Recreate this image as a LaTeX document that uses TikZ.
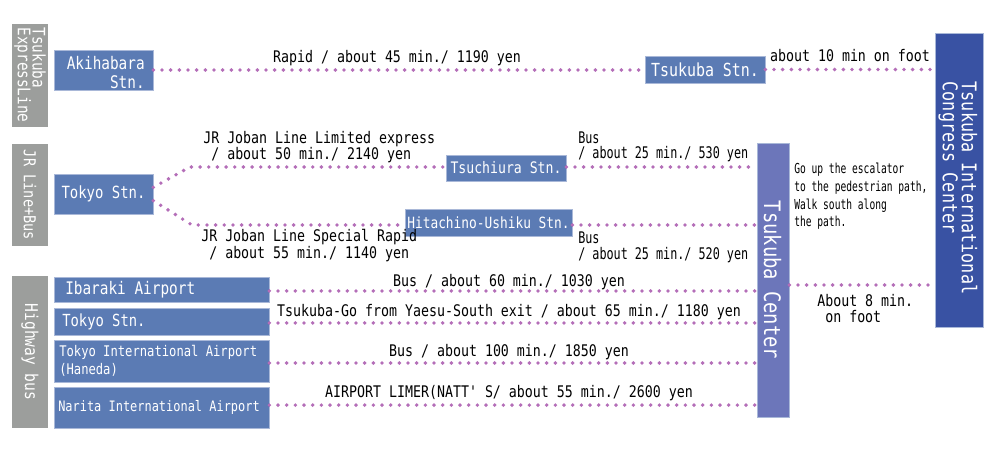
\documentclass[tikz,border=0pt]{standalone}
\usepackage{fontspec}
\usetikzlibrary{fit}
\newfontfamily\gfont{DejaVu Sans Mono}[FakeStretch=0.83]
\newfontfamily\gmid{DejaVu Sans Mono}[FakeStretch=0.735]
\newfontfamily\gnarrow{DejaVu Sans Mono}[FakeStretch=0.70]
\newcommand\myfs[2]{\fontsize{#1}{#2}\selectfont}
\definecolor{boxblue}{HTML}{5B7BB4}
\definecolor{boxedge}{HTML}{A9B8D8}
\definecolor{tcblue}{HTML}{6C76BA}
\definecolor{iccblue}{HTML}{3952A3}
\definecolor{labgray}{HTML}{9C9E9C}
\definecolor{dotpurple}{HTML}{B46EB8}
\tikzset{
  box/.style={fill=boxblue, draw=boxedge, line width=0.5pt, inner sep=0pt},
  gbox/.style={fill=labgray, inner sep=0pt},
  wtext/.style={text=white, inner sep=0pt},
  lbl/.style={inner sep=0pt, text=black, align=left, font=\gfont\myfs{12}{11.6}},
  dots/.style={draw=dotpurple, line width=2.9pt, line cap=round, dash pattern=on 0pt off 6.5pt},
}
\begin{document}
\begin{tikzpicture}[x=0.75pt,y=-0.75pt]
\useasboundingbox (0,0) rectangle (996,449);
% grey side labels
\node[gbox, fit={(12,24) (48,127)}] (g1) {};
\node[wtext, rotate=-90, align=left, font=\gfont\myfs{13}{11.2}] (g1t) at (30,75) {Tsukuba\\ExpressLine};
\node[gbox, fit={(12,144) (48,246)}] (g2) {};
\node[wtext, rotate=-90, font=\gfont\myfs{12.3}{12}] (g2t) at (30,195) {JR Line+Bus};
\node[gbox, fit={(12,276) (48,428)}] (g3) {};
\node[wtext, rotate=-90, font=\gfont\myfs{13.2}{12}] (g3t) at (30,352) {Highway bus};
% station boxes
\node[box, fit={(54,50) (153,90)}] (aki) {};
\node[wtext, anchor=east, align=right, font=\gfont\myfs{13}{14.25}] (akit) at (145,72.5) {Akihabara\\Stn.};
\node[box, fit={(645,56) (765,83)}] (tsst) {};
\node[wtext, font=\gfont\myfs{13.5}{14}] (tsstt) at (tsst.center) {Tsukuba Stn.};
\node[box, fit={(54,174) (153,214)}] (tok) {};
\node[wtext, font=\gfont\myfs{12.6}{14}] (tokt) at (tok.center) {Tokyo Stn.};
\node[box, fit={(446,155) (566,181)}] (tsu) {};
\node[wtext, font=\gfont\myfs{11.9}{14}] (tsut) at (tsu.center) {Tsuchiura Stn.};
\node[box, fit={(405,209) (572,236)}] (hit) {};
\node[wtext, font=\gfont\myfs{11.6}{14}] (hitt) at (hit.center) {Hitachino-Ushiku Stn.};
\node[box, fit={(54,277) (269,302)}] (ibk) {};
\node[wtext, anchor=west, font=\gfont\myfs{13}{14}] (ibkt) at (65,289.5) {Ibaraki Airport};
\node[box, fit={(54,308) (269,335)}] (tk2) {};
\node[wtext, anchor=west, font=\gfont\myfs{12.5}{14}] (tk2t) at (62,321.5) {Tokyo Stn.};
\node[box, fit={(54,340) (269,382)}] (hnd) {};
\node[wtext, anchor=west, align=left, font=\gfont\myfs{11}{13.5}] (hndt) at (59,361) {Tokyo International Airport\\(Haneda)};
\node[box, fit={(54,387) (269,428)}] (nrt) {};
\node[wtext, anchor=west, font=\gfont\myfs{10.8}{13}] (nrtt) at (58,407.5) {Narita International Airport};
% destination boxes
\node[fill=tcblue, draw=boxedge, line width=0.5pt, inner sep=0pt, fit={(757,143) (789,417)}] (tc) {};
\node[wtext, rotate=-90, font=\gfont\myfs{17}{17}] (tct) at (772.5,280) {Tsukuba Center};
\node[fill=iccblue, draw=boxedge, line width=0.5pt, inner sep=0pt, fit={(935,33) (983,327)}] (icc) {};
\node[wtext, rotate=-90, align=left, font=\gfont\myfs{15.2}{14.25}] (icct) at (958,188) {Tsukuba International\\Congress Center};
% connectors
\coordinate (b1) at (190,167);
\coordinate (b2) at (192,225);
\coordinate (w8) at (789,285);
\draw[dots] (aki.east) -- (aki.east -| tsst.west);
\draw[dots] (tsst.east) -- (tsst.east -| icc.west);
\draw[dots] ([yshift=5pt]tok.east) -- (b1) -- (b1 -| tsu.west);
\draw[dots] ([yshift=-5pt]tok.east) -- (b2) -- (b2 -| hit.west);
\draw[dots] (b1 -| tsu.east) -- (b1 -| tc.west);
\draw[dots] (b2 -| hit.east) -- (b2 -| tc.west);
\draw[dots] ([yshift=-1.1pt]ibk.east) -- ([yshift=-1.1pt]ibk.east -| tc.west);
\draw[dots] ([yshift=-1.1pt]tk2.east) -- ([yshift=-1.1pt]tk2.east -| tc.west);
\draw[dots] ([yshift=-1.5pt]hnd.east) -- ([yshift=-1.5pt]hnd.east -| tc.west);
\draw[dots] ([yshift=1.8pt]nrt.east) -- ([yshift=1.8pt]nrt.east -| tc.west);
\draw[dots] (tc.east |- w8) -- (w8 -| icc.west);
% labels
\node[lbl, anchor=base] (l1) at (397,63) {Rapid / about 45 min./ 1190 yen};
\node[lbl, anchor=base] (l2) at (850,62) {about 10 min on foot};
\node[lbl, anchor=base west] (l3) at (203,160) {JR Joban Line Limited express\\\hspace*{0.5em}/ about 50 min./ 2140 yen};
\node[lbl, anchor=base west, font=\gmid\myfs{12}{11.6}] (l4) at (578,159) {Bus\\/ about 25 min./ 530 yen};
\node[lbl, anchor=base west] (l5) at (201,258) {JR Joban Line Special Rapid\\\hspace*{0.5em}/ about 55 min./ 1140 yen};
\node[lbl, anchor=base west, font=\gmid\myfs{12}{11.6}] (l6) at (578,259) {Bus\\/ about 25 min./ 520 yen};
\node[lbl, anchor=base west, font=\gnarrow\myfs{10.3}{13.3}] (l7) at (794,227) {Go up the escalator\\to the pedestrian path,\\Walk south along\\the path.};
\node[lbl, anchor=base west] (l8) at (817,322) {About 8 min.\\\hspace*{0.5em}on foot};
\node[lbl, anchor=base] (l9) at (509,286) {Bus / about 60 min./ 1030 yen};
\node[lbl, anchor=base] (l10) at (509,316) {Tsukuba-Go from Yaesu-South exit / about 65 min./ 1180 yen};
\node[lbl, anchor=base] (l11) at (509,356) {Bus / about 100 min./ 1850 yen};
\node[lbl, anchor=base] (l12) at (509,397) {AIRPORT LIMER(NATT' S/ about 55 min./ 2600 yen};
\end{tikzpicture}
\end{document}
